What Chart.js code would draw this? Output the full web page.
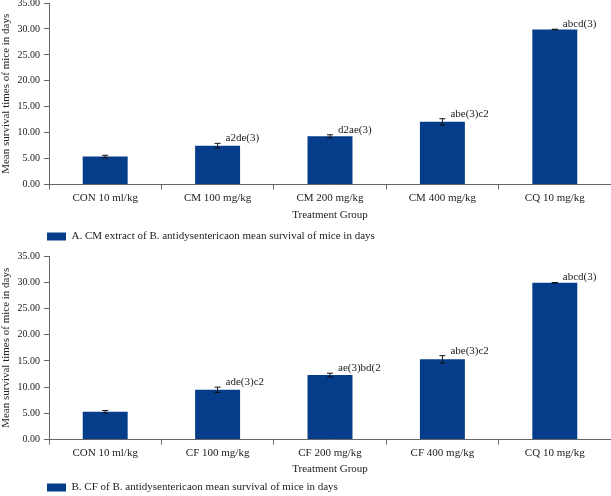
<!DOCTYPE html>
<html lang="en">
<head>
    <meta charset="UTF-8">
    <title>Mean survival times of mice</title>
    <script src="https://cdn.jsdelivr.net/npm/chart.js"></script>
    <style>
        html, body { margin: 0; padding: 0; background: #fff; overflow: hidden; }
        body { width: 611px; height: 496px; position: relative; }
        .box { position: absolute; left: 0; width: 611px; }
        #boxA { top: -7px; height: 259px; }
        #boxB { top: 246px; height: 257px; }
    </style>
</head>
<body>
    <div class="box" id="boxA"><canvas id="chartA"></canvas></div>
    <div class="box" id="boxB"><canvas id="chartB"></canvas></div>

    <script>
        // panel A - CM extract
        const groupsA = ['CON 10 ml/kg', 'CM 100 mg/kg', 'CM 200 mg/kg', 'CM 400 mg/kg', 'CQ 10 mg/kg'];
        const meansA = [5.4, 7.5, 9.3, 12.1, 29.9];
        const errorsA = [0.25, 0.45, 0.3, 0.6, 0.05];
        const marksA = ['', 'a2de(3)', 'd2ae(3)', 'abe(3)c2', 'abcd(3)'];
        const legendA = 'A. CM extract of B. antidysentericaon mean survival of mice in days';

        // panel B - CF fraction
        const groupsB = ['CON 10 ml/kg', 'CF 100 mg/kg', 'CF 200 mg/kg', 'CF 400 mg/kg', 'CQ 10 mg/kg'];
        const meansB = [5.3, 9.5, 12.3, 15.3, 29.9];
        const errorsB = [0.25, 0.5, 0.35, 0.7, 0.05];
        const marksB = ['', 'ade(3)c2', 'ae(3)bd(2', 'abe(3)c2', 'abcd(3)'];
        const legendB = 'B. CF of B. antidysentericaon mean survival of mice in days';

        const yTicks = [0, 5, 10, 15, 20, 25, 30, 35];

        const serif = "'Liberation Serif', 'DejaVu Serif', serif";
        const barColor = '#063d8a';
        const axisColor = '#666';

        // error bars + significance letters
        const errorBars = {
            id: 'errorBars',
            afterDatasetsDraw(chart, args, opts) {
                const ctx = chart.ctx;
                const y = chart.scales.y;
                const bars = chart.getDatasetMeta(0).data;
                ctx.save();
                bars.forEach((bar, i) => {
                    const m = opts.means[i], e = opts.errors[i];
                    const top = y.getPixelForValue(m + e);
                    const bot = y.getPixelForValue(m - e);
                    ctx.strokeStyle = '#111';
                    ctx.lineWidth = 1;
                    ctx.beginPath();
                    ctx.moveTo(bar.x, top); ctx.lineTo(bar.x, bot);
                    ctx.moveTo(bar.x - 3, top); ctx.lineTo(bar.x + 3, top);
                    ctx.moveTo(bar.x - 3, bot); ctx.lineTo(bar.x + 3, bot);
                    ctx.stroke();
                    if (opts.marks[i]) {
                        ctx.fillStyle = '#222';
                        ctx.font = '11px ' + serif;
                        ctx.textAlign = 'left';
                        ctx.textBaseline = 'alphabetic';
                        ctx.fillText(opts.marks[i], bar.x + 8, top - 2);
                    }
                });
                ctx.restore();
            }
        };

        // nudge the legend right so its box starts at x = 47
        const legendShift = {
            id: 'legendShift',
            afterLayout(chart) {
                const dx = 47 - chart.options.plugins.legend.labels.padding;
                chart.legend.left += dx;
                chart.legend.right += dx;
            }
        };

        function makeChart(id, groups, means, errors, marks, label, titlePad, legendPad) {
            return new Chart(document.getElementById(id), {
                type: 'bar',
                data: {
                    labels: groups,
                    datasets: [{
                        label: label,
                        data: means,
                        backgroundColor: barColor,
                        borderWidth: 0,
                        barPercentage: 0.4,
                        categoryPercentage: 1
                    }]
                },
                options: {
                    responsive: true,
                    maintainAspectRatio: false,
                    animation: false,
                    layout: { padding: 0 },
                    scales: {
                        x: {
                            grid: { drawOnChartArea: false, tickLength: 5, color: axisColor, offset: true },
                            border: { color: axisColor },
                            ticks: { color: '#222', padding: 2, maxRotation: 0, font: { family: serif, size: 11 } },
                            title: {
                                display: true,
                                text: 'Treatment Group',
                                color: '#222',
                                padding: titlePad,
                                font: { family: serif, size: 11 }
                            }
                        },
                        y: {
                            min: 0,
                            max: 35,
                            afterFit: s => { s.width = 49; },
                            afterBuildTicks: s => { s.ticks = yTicks.map(v => ({ value: v })); },
                            grid: { drawOnChartArea: false, tickLength: 5, color: axisColor },
                            border: { color: axisColor },
                            ticks: {
                                color: '#222',
                                padding: 4,
                                font: { family: serif, size: 10 },
                                callback: v => Number(v).toFixed(2)
                            },
                            title: {
                                display: true,
                                text: 'Mean survival times of mice in days',
                                color: '#222',
                                padding: 0,
                                font: { family: serif, size: 11 }
                            }
                        }
                    },
                    plugins: {
                        legend: {
                            position: 'bottom',
                            align: 'start',
                            labels: {
                                boxWidth: 19,
                                boxHeight: 8,
                                padding: legendPad,
                                color: '#222',
                                font: { family: serif, size: 11 }
                            }
                        },
                        tooltip: { enabled: false },
                        errorBars: { means: means, errors: errors, marks: marks }
                    }
                },
                plugins: [errorBars, legendShift]
            });
        }

        makeChart('chartA', groupsA, meansA, errorsA, marksA, legendA, { top: 2, bottom: 1 }, 8);
        makeChart('chartB', groupsB, meansB, errorsB, marksB, legendB, { top: 1, bottom: 0 }, 6);
    </script>
</body>
</html>
